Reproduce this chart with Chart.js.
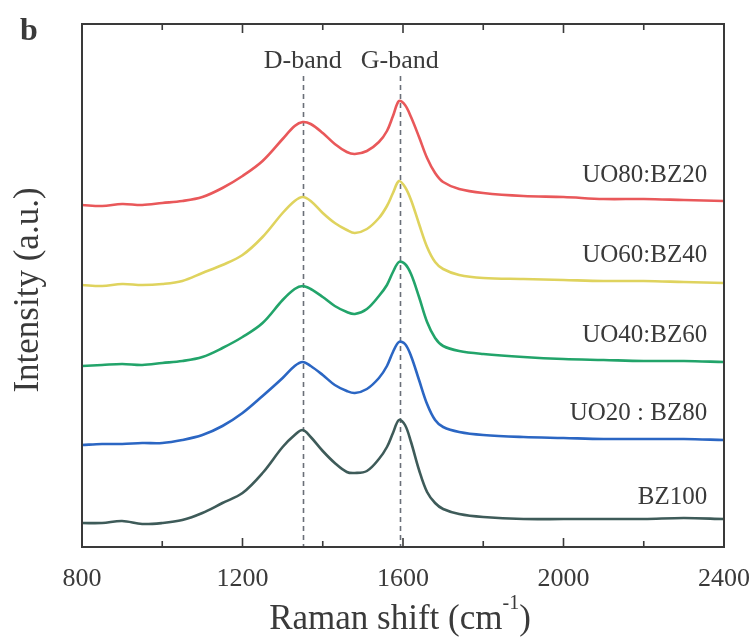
<!DOCTYPE html>
<html>
<head>
<meta charset="utf-8">
<script src="https://cdn.jsdelivr.net/npm/chart.js@4.4.1/dist/chart.umd.min.js"></script>
<style>
  html, body { margin: 0; padding: 0; background: #ffffff; }
  #wrap { width: 752px; height: 638px; position: relative; }
</style>
</head>
<body>
<div id="wrap"><canvas id="c" width="752" height="638"></canvas></div>
<script>
// Raman shift sampling points (cm^-1)
const ramanShift = [800, 850, 900, 950, 1000, 1050, 1100, 1150, 1200, 1250, 1300, 1330, 1350, 1370, 1400, 1430, 1460, 1480, 1510, 1540, 1560, 1575, 1590, 1605, 1620, 1640, 1660, 1680, 1700, 1740, 1800, 1900, 2000, 2100, 2200, 2300, 2400];

// Stacked intensity traces (a.u., vertically offset)
const uo80bz20 = [342, 341, 343, 342, 344, 346, 350, 359, 371, 386, 408, 421, 425, 423, 414, 403, 395, 393, 396, 405, 416, 431, 446, 442, 430, 410, 389, 374, 365, 358, 354, 351, 350, 348, 348, 347, 346];
const uo60bz40 = [262, 261, 263, 262, 263, 266, 274, 282, 292, 310, 334, 346, 350, 346, 334, 324, 317, 314, 318, 329, 341, 354, 366, 360, 347, 323, 300, 285, 278, 272, 269, 268, 267, 266, 266, 265, 264];
const uo40bz60 = [181, 182, 183, 182, 184, 186, 190, 199, 210, 224, 247, 258, 261, 258, 250, 241, 235, 233, 238, 251, 262, 275, 285, 283, 273, 250, 225, 209, 201, 196, 193, 190, 188, 187, 186, 186, 185];
const uo20bz80 = [102, 103, 103, 104, 104, 107, 112, 121, 134, 151, 169, 181, 185, 181, 172, 162, 156, 154, 158, 169, 181, 195, 205, 203, 191, 167, 143, 127, 120, 115, 112, 110, 109, 108, 108, 108, 107];
const bz100    = [24, 24, 26, 23, 24, 27, 34, 44, 54, 74, 100, 112, 117, 110, 96, 84, 75, 74, 76, 88, 100, 114, 127, 122, 105, 77, 55, 44, 38, 33, 30, 28, 28, 28, 28, 29, 28];

// Sample names and where their labels sit (x in cm^-1, y in a.u.)
const sampleNames = ['UO80:BZ20', 'UO60:BZ40', 'UO40:BZ60', 'UO20 : BZ80', 'BZ100'];
const labelX = 2358;
const labelY = [372, 292, 212, 134, 50];

// Band positions (cm^-1)
const bandNames = ['D-band', 'G-band'];
const bandPositions = [1350, 1592];

// Axis ticks
const xMajorTicks = [800, 1200, 1600, 2000, 2400];
const xMinorTicks = [1000, 1400, 1800, 2200];

const colors = ['#e9585a', '#dfd35e', '#22a46a', '#2b66c3', '#3e5b59'];
const series = [uo80bz20, uo60bz40, uo40bz60, uo20bz80, bz100];

const SERIF = '"Liberation Serif", "DejaVu Serif", serif';
const INK = '#3a3a3a';

const decorations = {
  id: 'decorations',
  beforeDatasetsDraw(chart) {
    const { ctx, chartArea: a, scales: { x } } = chart;
    // dashed band markers
    ctx.save();
    ctx.strokeStyle = '#6a6f78';
    ctx.lineWidth = 1.6;
    ctx.setLineDash([5, 4]);
    bandPositions.forEach(v => {
      const px = Math.round(x.getPixelForValue(v)) + 0.5;
      ctx.beginPath();
      ctx.moveTo(px, 76);
      ctx.lineTo(px, a.bottom);
      ctx.stroke();
    });
    ctx.restore();
  },
  afterDatasetsDraw(chart) {
    const { ctx, chartArea: a, scales: { x, y } } = chart;
    ctx.save();
    // frame
    ctx.strokeStyle = INK;
    ctx.lineWidth = 2;
    ctx.strokeRect(a.left, a.top, a.right - a.left, a.bottom - a.top);
    // inward ticks on top and bottom
    ctx.lineWidth = 1.6;
    const tick = (v, len) => {
      const px = x.getPixelForValue(v);
      ctx.beginPath();
      ctx.moveTo(px, a.bottom);
      ctx.lineTo(px, a.bottom - len);
      ctx.moveTo(px, a.top);
      ctx.lineTo(px, a.top + len);
      ctx.stroke();
    };
    xMajorTicks.forEach(v => tick(v, 9));
    xMinorTicks.forEach(v => tick(v, 6));

    // tick labels
    ctx.fillStyle = INK;
    ctx.font = '26px ' + SERIF;
    ctx.textAlign = 'center';
    ctx.textBaseline = 'middle';
    xMajorTicks.forEach(v => ctx.fillText(String(v), x.getPixelForValue(v), 579));

    // x axis title with superscript
    const main = 'Raman shift (cm';
    const sup = '-1';
    const tail = ')';
    ctx.font = '35px ' + SERIF;
    const wMain = ctx.measureText(main).width;
    const wTail = ctx.measureText(tail).width;
    ctx.font = '20px ' + SERIF;
    const wSup = ctx.measureText(sup).width;
    const total = wMain + wSup + wTail;
    let sx = 400 - total / 2;
    ctx.textAlign = 'left';
    ctx.font = '35px ' + SERIF;
    ctx.fillText(main, sx, 620);
    sx += wMain;
    ctx.font = '20px ' + SERIF;
    ctx.fillText(sup, sx, 604);
    sx += wSup;
    ctx.font = '35px ' + SERIF;
    ctx.fillText(tail, sx, 620);

    // y axis title
    ctx.save();
    ctx.translate(29, 290);
    ctx.rotate(-Math.PI / 2);
    ctx.textAlign = 'center';
    ctx.font = '35px ' + SERIF;
    ctx.fillText('Intensity (a.u.)', 0, 0);
    ctx.restore();

    // panel letter
    ctx.textAlign = 'left';
    ctx.font = 'bold 32px ' + SERIF;
    ctx.fillText('b', 20, 32);

    // band names
    ctx.textAlign = 'center';
    ctx.font = '26px ' + SERIF;
    bandNames.forEach((n, i) => ctx.fillText(n, x.getPixelForValue(bandPositions[i]), 61));

    // sample names
    ctx.textAlign = 'right';
    ctx.font = '25px ' + SERIF;
    sampleNames.forEach((n, i) => ctx.fillText(n, x.getPixelForValue(labelX), y.getPixelForValue(labelY[i])));
    ctx.restore();
  }
};

new Chart(document.getElementById('c'), {
  type: 'line',
  data: {
    labels: ramanShift,
    datasets: series.map((d, i) => ({
      label: sampleNames[i],
      data: d.map((v, k) => ({ x: ramanShift[k], y: v })),
      borderColor: colors[i],
      borderWidth: 2.6,
      pointRadius: 0,
      fill: false,
      tension: 0.35
    }))
  },
  options: {
    responsive: false,
    animation: false,
    layout: { padding: { left: 82, right: 28, top: 24, bottom: 91 } },
    plugins: { legend: { display: false }, tooltip: { enabled: false } },
    scales: {
      x: { type: 'linear', min: 800, max: 2400, display: false },
      y: { type: 'linear', min: 0, max: 523, display: false }
    }
  },
  plugins: [decorations]
});
</script>
</body>
</html>
